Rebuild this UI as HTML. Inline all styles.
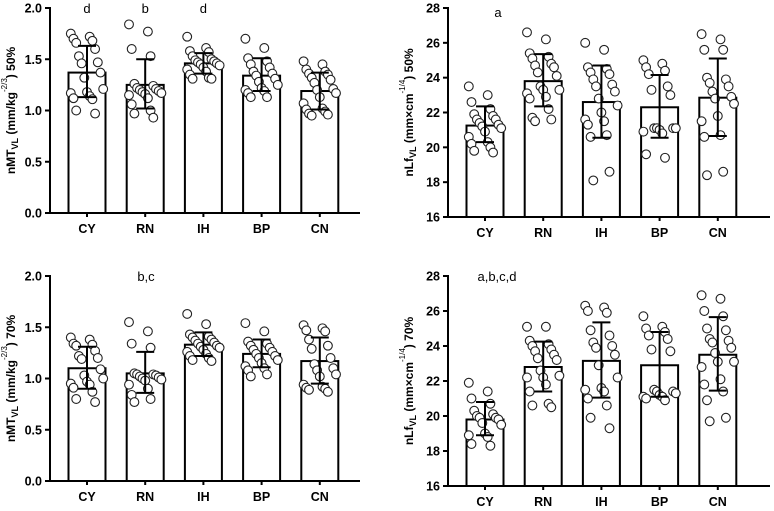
<!DOCTYPE html>
<html><head><meta charset="utf-8"><style>
html,body{margin:0;padding:0;background:#fff;}
svg{display:block;font-family:"Liberation Sans",Arial,sans-serif;}
</style></head><body>
<svg id="chart" width="774" height="511" viewBox="0 0 774 511"></svg>
<script>
const categories = ["CY","RN","IH","BP","CN"];

const p1Means = [1.37,1.25,1.46,1.34,1.19];
const p1Hi = [1.63,1.50,1.56,1.51,1.37];
const p1Lo = [1.13,1.02,1.36,1.19,1.01];
const p1Points = [
 [1.75,1.72,1.70,1.68,1.66,1.60,1.53,1.47,1.46,1.37,1.32,1.21,1.18,1.17,1.14,1.12,1.11,1.00,0.97],
 [1.84,1.77,1.60,1.53,1.26,1.24,1.22,1.21,1.20,1.19,1.18,1.17,1.16,1.15,1.12,1.06,1.00,0.97,0.93],
 [1.72,1.61,1.58,1.57,1.53,1.50,1.49,1.48,1.47,1.46,1.45,1.44,1.42,1.40,1.38,1.35,1.32,1.31,1.31],
 [1.70,1.61,1.51,1.48,1.45,1.42,1.38,1.36,1.34,1.31,1.28,1.25,1.22,1.20,1.19,1.17,1.13,1.13],
 [1.48,1.45,1.40,1.38,1.36,1.35,1.32,1.30,1.27,1.21,1.20,1.17,1.13,1.07,1.02,1.01,0.99,0.97,0.96,0.95]
];
const p1Letters = ["d","b","d","",""];

const p2Means = [21.25,23.8,22.6,22.3,22.85];
const p2Hi = [22.35,25.35,24.7,24.15,25.1];
const p2Lo = [20.3,22.35,20.55,20.55,20.65];
const p2Points = [
 [23.5,23.0,22.6,22.2,21.9,21.8,21.6,21.6,21.4,21.3,21.2,21.1,20.9,20.6,20.3,20.2,20.0,19.8,19.7],
 [26.6,26.2,25.4,25.2,25.1,24.8,24.7,24.6,24.3,24.1,23.5,23.3,23.3,23.1,22.9,22.8,22.2,21.7,21.6,21.5],
 [26.0,25.6,24.6,24.5,24.3,24.2,23.9,23.6,23.5,23.2,22.8,22.4,22.0,21.6,21.5,21.3,20.7,20.6,18.6,18.1],
 [25.0,24.8,24.6,24.4,24.2,23.5,23.3,23.0,21.1,21.1,21.1,21.1,21.0,20.9,20.8,19.6,19.4],
 [26.5,26.2,25.6,25.6,24.0,23.9,23.7,23.5,23.2,22.9,22.8,22.5,21.8,21.5,20.7,20.6,18.6,18.4]
];

const p3Means = [1.10,1.05,1.33,1.24,1.17];
const p3Hi = [1.31,1.26,1.45,1.38,1.40];
const p3Lo = [0.90,0.86,1.22,1.11,0.95];
const p3Points = [
 [1.40,1.38,1.34,1.33,1.32,1.27,1.22,1.20,1.19,1.09,1.03,1.00,0.97,0.95,0.94,0.91,0.87,0.80,0.77],
 [1.55,1.46,1.34,1.30,1.05,1.04,1.04,1.03,1.02,1.01,1.00,0.99,0.98,0.94,0.90,0.84,0.80,0.77],
 [1.63,1.53,1.43,1.41,1.40,1.38,1.37,1.35,1.34,1.32,1.31,1.30,1.28,1.26,1.24,1.22,1.20,1.18,1.17],
 [1.54,1.46,1.36,1.34,1.32,1.30,1.28,1.26,1.24,1.22,1.20,1.18,1.15,1.12,1.10,1.08,1.04,1.02],
 [1.52,1.49,1.47,1.46,1.38,1.32,1.29,1.20,1.14,1.10,1.08,1.04,1.02,0.94,0.92,0.91,0.90,0.89,0.87]
];

const p4Means = [19.8,22.8,23.15,22.9,23.5];
const p4Hi = [20.8,24.25,25.35,24.8,25.65];
const p4Lo = [18.9,21.4,21.05,21.1,21.45];
const p4Points = [
 [21.9,21.4,21.0,20.7,20.3,20.1,20.0,19.9,19.9,19.8,19.6,19.5,19.0,18.9,18.8,18.4,18.3],
 [25.1,25.1,24.3,24.1,24.0,23.8,23.7,23.5,23.3,23.2,22.6,22.3,22.2,22.2,21.8,21.4,20.7,20.6,20.5],
 [26.3,26.2,26.0,25.9,24.9,24.6,24.2,24.0,23.9,23.5,22.9,22.2,21.6,21.5,21.4,21.0,20.6,19.9,19.3],
 [25.7,25.1,25.0,24.8,24.6,24.4,23.8,23.7,21.5,21.4,21.4,21.3,21.2,21.1,21.1,21.0,20.9],
 [26.9,26.7,26.0,25.7,25.0,24.9,24.4,24.3,24.2,23.9,23.6,23.1,23.1,22.8,22.1,21.8,21.4,20.9,19.9,19.7]
];

const ticksA = [0,0.5,1.0,1.5,2.0];
const ticksALabels = ["0.0","0.5","1.0","1.5","2.0"];
const ticksB = [16,18,20,22,24,26,28];
const ticksBLabels = ["16","18","20","22","24","26","28"];

const NS = "http://www.w3.org/2000/svg";
const svg = document.getElementById("chart");
function mk(tag, attrs, parent){
  const e = document.createElementNS(NS, tag);
  for (const k in attrs) e.setAttribute(k, attrs[k]);
  (parent||svg).appendChild(e);
  return e;
}

function drawPanel(id, ax, means, hi, lo, points, ticks, tickLabels, letters, letterX, letterY, labelParts){
  const g = mk("g", {});
  
  
  const yMin = ticks[0], yMax = ticks[ticks.length-1];
  const y = v => ax.y0 - (v - yMin) / (yMax - yMin) * (ax.y0 - ax.y1);
  const xc = i => ax.x0 + 37 + i * 58.2;
  categories.forEach((c, i) => {
    const r = mk("rect", {x: xc(i)-18.5, y: y(means[i]), width: 37, height: ax.y0 - y(means[i]), fill: "#fff", stroke: "#000", "stroke-width": 2}, g);
    
    
  });
  points.forEach((arr, i) => {
    arr.forEach((v, j) => {
      const off = (((j * 7) % 13) - 6) * 2.7;
      const p = mk("circle", {cx: xc(i) + off, cy: y(v), r: 4.4, fill: "#fff", stroke: "#222", "stroke-width": 1.1}, g);
      
      
    });
  });
  categories.forEach((c, i) => {
    const e = mk("path", {d: `M${xc(i)},${y(lo[i])}V${y(hi[i])}M${xc(i)-9},${y(hi[i])}H${xc(i)+9}M${xc(i)-9},${y(lo[i])}H${xc(i)+9}`, stroke: "#000", "stroke-width": 2, fill: "none"}, g);
    
    
  });
  const axis = mk("path", {d: `M${ax.x0},${ax.y1-1}V${ax.y0}H${ax.x1}`, stroke: "#000", "stroke-width": 2, fill: "none"}, g);
  
  
  ticks.forEach((t, k) => {
    mk("line", {x1: ax.x0-5, x2: ax.x0, y1: y(t), y2: y(t), stroke: "#000", "stroke-width": 2}, g);
    const tl = mk("text", {x: ax.x0-8, y: y(t)+4.5, "text-anchor": "end", "font-size": 12.5, "font-weight": "bold"}, g);
    tl.textContent = tickLabels[k];
    
    
  });
  categories.forEach((c, i) => {
    mk("line", {x1: xc(i), x2: xc(i), y1: ax.y0, y2: ax.y0+4, stroke: "#000", "stroke-width": 2}, g);
    const cl = mk("text", {x: xc(i), y: ax.y0+20, "text-anchor": "middle", "font-size": 12.5, "font-weight": "bold"}, g);
    cl.textContent = c;
    
    
  });
  letters.forEach((l, i) => {
    if (!l) return;
    const lt = mk("text", {x: letterX !== null ? letterX : xc(i), y: letterY, "text-anchor": "middle", "font-size": 13}, g);
    lt.textContent = l;
    
    
  });
  const cy = (ax.y0 + ax.y1) / 2;
  const t = mk("text", {transform: `translate(${ax.x0-35},${cy}) rotate(-90)`, "text-anchor": "middle", "font-size": 12, "font-weight": "bold"}, g);
  
  
  labelParts.forEach(p => {
    const s = document.createElementNS(NS, "tspan");
    s.textContent = p[0];
    if (p[1] === "sub") { s.setAttribute("font-size", 9); s.setAttribute("dy", 3); }
    if (p[1] === "sup") { s.setAttribute("font-size", 8); s.setAttribute("dy", -8); s.setAttribute("font-weight","normal"); }
    if (p[1] === "down") { s.setAttribute("dy", 8); }
    if (p[1] === "up") { s.setAttribute("dy", -3); }
    t.appendChild(s);
  });
}

drawPanel("top-left", {x0:50, x1:360, y0:213, y1:8}, p1Means, p1Hi, p1Lo, p1Points, ticksA, ticksALabels, p1Letters, null, 13,
  [["nMT"],["VL","sub"],[" (mm/kg","up"],["-2/3","sup"],[") 50%","down"]]);
drawPanel("top-right", {x0:448, x1:770, y0:217, y1:8}, p2Means, p2Hi, p2Lo, p2Points, ticksB, ticksBLabels, ["a"], 498, 17,
  [["nLf"],["VL","sub"],[" (mm×cm","up"],["-1/4","sup"],[") 50%","down"]]);
drawPanel("bottom-left", {x0:50, x1:360, y0:481, y1:276}, p3Means, p3Hi, p3Lo, p3Points, ticksA, ticksALabels, ["b,c"], 146, 281,
  [["nMT"],["VL","sub"],[" (mm/kg","up"],["-2/3","sup"],[") 70%","down"]]);
drawPanel("bottom-right", {x0:448, x1:770, y0:486, y1:276}, p4Means, p4Hi, p4Lo, p4Points, ticksB, ticksBLabels, ["a,b,c,d"], 497, 281,
  [["nLf"],["VL","sub"],[" (mm×cm","up"],["-1/4","sup"],[") 70%","down"]]);
</script>
</body></html>
